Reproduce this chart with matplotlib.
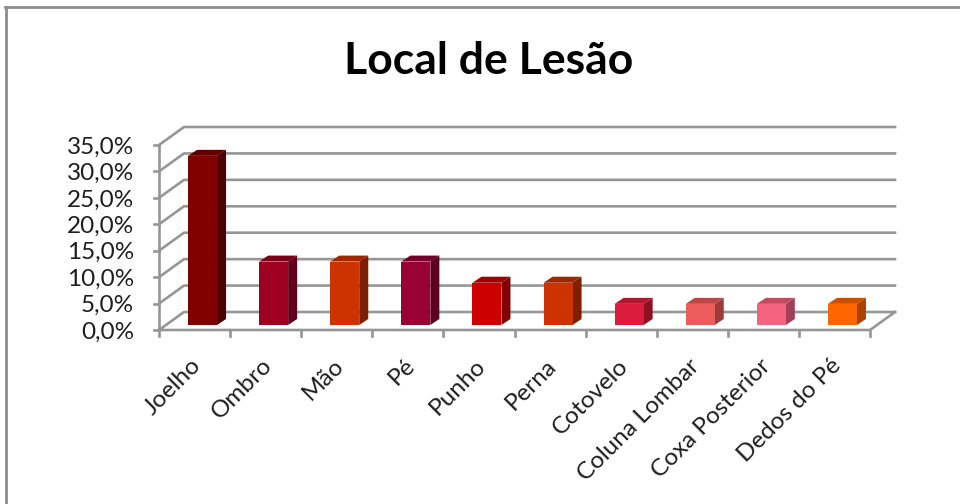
import matplotlib
matplotlib.use('Agg')
import matplotlib.pyplot as plt
from matplotlib.patches import Polygon, Rectangle

plt.rcParams['font.family'] = ['Lato', 'DejaVu Sans']

categories = ['Joelho', 'Ombro', 'Mão', 'Pé', 'Punho', 'Perna', 'Cotovelo',
              'Coluna Lombar', 'Coxa Posterior', 'Dedos do Pé']
values = [32, 12, 12, 12, 8, 8, 4, 4, 4, 4]
colors = ['#800000', '#A00020', '#CC3300', '#990033', '#CC0000',
          '#CC3300', '#DC1C3C', '#EC5C5C', '#F46480', '#FF6600']
side_colors = ['#4C0000', '#60001A', '#7E2000', '#5C001F', '#800000',
               '#7E2000', '#8E1024', '#9C3A3A', '#A04058', '#A84400']
top_colors = ['#5E0000', '#7A0018', '#A02800', '#74002A', '#A00000',
              '#A02800', '#B01830', '#B84848', '#C04C60', '#C85000']
yticks = [0, 5, 10, 15, 20, 25, 30, 35]

W, H = 960, 504
fig = plt.figure(figsize=(W / 100, H / 100), dpi=100)

# frame of the chart area, only left and top show in the picture
frame_color = '#8C8C8C'
fig.add_artist(plt.Line2D([6 / W, 6 / W], [0, 1 - 7 / H], transform=fig.transFigure, color=frame_color, lw=2))
fig.add_artist(plt.Line2D([5 / W, 1], [1 - 7 / H, 1 - 7 / H], transform=fig.transFigure, color=frame_color, lw=2))

# axes = front plane of the 3d box, 159..870 px wide, y 330..145 px
ax = fig.add_axes([159 / W, 1 - 330 / H, 711 / W, 185 / H])
ax.set_xlim(0, len(categories))
ax.set_ylim(0, 35)
ax.axis('off')

px = len(categories) / 711
py = 35 / 185
grid_color = '#969696'
grid_lw = 1.9
text_color = '#1E1E1E'

# wall depth
dx = 25 * px
dy = 18 * py

for t in yticks:
    ax.plot([0, dx, 10 + dx], [t, t + dy, t + dy], color=grid_color, lw=grid_lw, clip_on=False, zorder=1)
    ax.plot([-5 * px, 0], [t, t], color=grid_color, lw=grid_lw, clip_on=False, zorder=1)
    ax.text(-25 * px, t - 2 * py, ('%.1f%%' % t).replace('.', ','), ha='right', va='center',
            fontsize=17.5, color=text_color, clip_on=False)

ax.plot([0, 0], [0, 35], color=grid_color, lw=grid_lw, clip_on=False, zorder=1)
ax.plot([0, 10, 10 + dx], [0, 0, dy], color=grid_color, lw=grid_lw, clip_on=False, zorder=1)

for i, name in enumerate(categories):
    ax.plot([i, i], [0, -6 * py], color=grid_color, lw=grid_lw, clip_on=False, zorder=1)
    # label anchored at its upper right end below the category
    ax.text(i + 0.5 - 4 * px, -25 * py, name, rotation=45, rotation_mode='anchor',
            ha='right', va='top', fontsize=17.5, color=text_color, clip_on=False)
ax.plot([10, 10], [0, -6 * py], color=grid_color, lw=grid_lw, clip_on=False, zorder=1)

# bars, front face plus side and top faces
bar_w = 29 * px
bar_dx = 9 * px
bar_dy = 6 * py
base = 5 * py
for i, v in enumerate(values):
    x0 = i + 0.5 + 8 * px - bar_w / 2
    x1 = x0 + bar_w
    y1 = base + v
    ax.add_patch(Polygon([(x1, base), (x1 + bar_dx, base + bar_dy), (x1 + bar_dx, y1 + bar_dy), (x1, y1)],
                         facecolor=side_colors[i], edgecolor='none', clip_on=False, zorder=3))
    ax.add_patch(Polygon([(x0, y1), (x1, y1), (x1 + bar_dx, y1 + bar_dy), (x0 + bar_dx, y1 + bar_dy)],
                         facecolor=top_colors[i], edgecolor='none', clip_on=False, zorder=3))
    ax.add_patch(Rectangle((x0, base), bar_w, v, facecolor=colors[i], edgecolor='none',
                           clip_on=False, zorder=4))

fig.text(489 / W, 1 - 61 / H, 'Local de Lesão', ha='center', va='center', fontsize=32,
         fontweight='bold', color='black')

fig.savefig('out.png', dpi=100)
